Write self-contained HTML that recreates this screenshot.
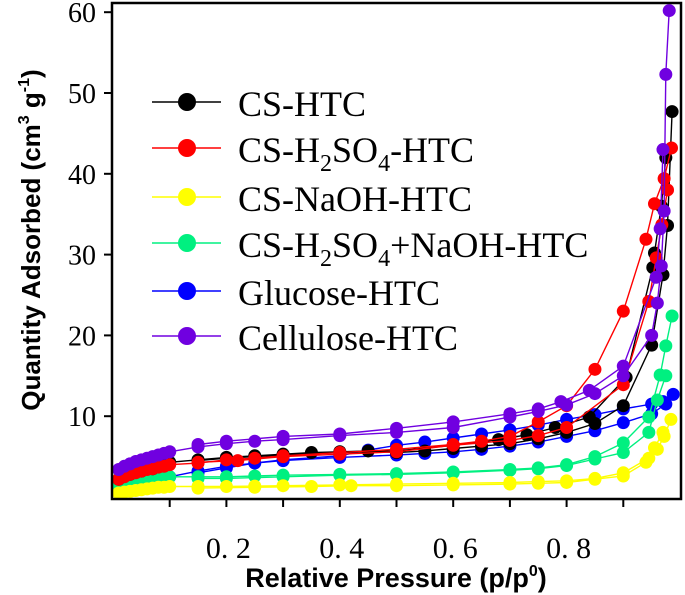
<!DOCTYPE html>
<html><head><meta charset="utf-8"><style>
html,body{margin:0;padding:0;background:#fff;}
svg{display:block;}
</style></head><body>
<svg id="chart" width="685" height="595" viewBox="0 0 685 595"></svg>
<script>
const seriesNames=["CS-HTC","CS-H2SO4-HTC","CS-NaOH-HTC","CS-H2SO4+NaOH-HTC","Glucose-HTC","Cellulose-HTC"];
const seriesColors=["#000000","#ff0000","#ffff00","#00f080","#0000ff","#7000e0"];
const xTicks=[0.2,0.4,0.6,0.8];
const yTicks=[10,20,30,40,50,60];
// adsorption branches [p, v]
const adsCS=[[0.01,2.2],[0.03,2.8],[0.05,3.2],[0.07,3.5],[0.09,3.9],[0.1,4.3],[0.15,4.6],[0.2,4.9],[0.25,5.1],[0.3,5.3],[0.35,5.5],[0.4,5.6],[0.45,5.7],[0.5,5.5],[0.55,5.7],[0.6,6.0],[0.65,6.3],[0.7,6.6],[0.75,7.2],[0.8,8.0],[0.85,9.1],[0.9,11.3],[0.95,18.8],[0.97,27.5],[0.978,33.6],[0.986,47.7]];
const desCS=[[0.975,42],[0.967,36],[0.955,30.2],[0.952,28.4],[0.905,14.8],[0.84,9.9],[0.78,8.6],[0.73,7.7],[0.68,7.1],[0.6,6.4],[0.5,5.7],[0.4,5.5],[0.3,5.2],[0.2,4.8],[0.15,4.5]];
const adsH2=[[0.01,2.2],[0.02,2.5],[0.03,2.8],[0.04,3.0],[0.05,3.2],[0.06,3.4],[0.07,3.5],[0.08,3.7],[0.09,3.8],[0.1,4.0],[0.15,4.2],[0.2,4.6],[0.25,4.8],[0.3,5.1],[0.4,5.5],[0.5,5.9],[0.6,6.5],[0.65,6.9],[0.7,7.5],[0.75,9.3],[0.8,11.3],[0.85,15.8],[0.9,23],[0.94,31.9],[0.955,36.3],[0.972,39.4],[0.985,43.2]];
const desH2=[[0.978,38],[0.968,33.7],[0.958,29.6],[0.945,24.2],[0.9,13.9],[0.8,8.6],[0.75,7.6],[0.7,7.0],[0.6,6.4],[0.5,5.6],[0.4,5.3],[0.3,5.0],[0.22,4.5],[0.15,4.3]];
const adsNa=[[0.01,0.5],[0.02,0.6],[0.03,0.7],[0.04,0.8],[0.05,0.9],[0.06,1.0],[0.07,1.1],[0.08,1.2],[0.09,1.2],[0.1,1.3],[0.15,1.3],[0.2,1.3],[0.25,1.35],[0.3,1.4],[0.4,1.5],[0.5,1.6],[0.6,1.7],[0.7,1.8],[0.75,1.9],[0.8,2.0],[0.85,2.3],[0.9,3.0],[0.945,4.8],[0.96,5.9],[0.972,7.5],[0.984,9.6]];
const desNa=[[0.97,8],[0.955,6.1],[0.94,4.3],[0.9,2.6],[0.85,2.2],[0.8,1.8],[0.75,1.7],[0.7,1.6],[0.6,1.5],[0.5,1.4],[0.42,1.4],[0.35,1.3],[0.25,1.2],[0.15,1.1]];
const adsGr=[[0.01,1.3],[0.02,1.5],[0.03,1.6],[0.04,1.7],[0.05,1.8],[0.06,2.0],[0.07,2.1],[0.08,2.2],[0.09,2.3],[0.1,2.5],[0.15,2.5],[0.2,2.5],[0.25,2.6],[0.3,2.7],[0.4,2.8],[0.5,2.9],[0.6,3.1],[0.7,3.4],[0.75,3.6],[0.8,4.0],[0.85,5.0],[0.9,6.7],[0.945,9.9],[0.965,15.1],[0.975,18.7],[0.986,22.4]];
const desGr=[[0.975,15],[0.96,12],[0.945,8.0],[0.9,5.5],[0.85,4.7],[0.8,3.9],[0.75,3.5],[0.7,3.3],[0.6,3.0],[0.5,2.8],[0.4,2.7],[0.3,2.5],[0.2,2.3],[0.15,2.3]];
const adsGl=[[0.01,0.8],[0.02,1.0],[0.03,1.2],[0.04,1.4],[0.05,1.5],[0.06,1.7],[0.07,1.8],[0.08,2.0],[0.09,2.2],[0.1,2.5],[0.15,3.2],[0.2,3.8],[0.3,4.6],[0.4,5.1],[0.45,5.8],[0.5,6.4],[0.55,6.8],[0.6,7.3],[0.65,7.8],[0.7,8.3],[0.75,8.9],[0.8,9.6],[0.85,10.2],[0.9,10.9],[0.95,11.5],[0.97,11.8],[0.988,12.7]];
const desGl=[[0.975,11.5],[0.95,10.3],[0.9,9.2],[0.85,8.2],[0.8,7.5],[0.75,6.8],[0.7,6.3],[0.65,5.9],[0.6,5.6],[0.55,5.4],[0.5,5.2],[0.4,4.9],[0.3,4.5],[0.25,4.2],[0.2,3.6],[0.15,3.0]];
const adsCe=[[0.01,3.4],[0.02,3.8],[0.03,4.1],[0.04,4.4],[0.05,4.6],[0.06,4.8],[0.07,5.0],[0.08,5.2],[0.09,5.4],[0.1,5.6],[0.15,6.2],[0.2,6.6],[0.25,6.9],[0.3,7.1],[0.4,7.6],[0.5,8.0],[0.6,8.6],[0.7,9.9],[0.75,10.6],[0.8,11.4],[0.85,12.8],[0.9,15],[0.95,20],[0.96,24],[0.967,28.6],[0.972,35.4],[0.975,52.3],[0.981,60.2]];
const desCe=[[0.97,43],[0.965,33.2],[0.958,27.2],[0.9,16.2],[0.84,13.2],[0.79,11.8],[0.75,10.9],[0.7,10.3],[0.6,9.3],[0.5,8.5],[0.4,7.8],[0.3,7.5],[0.2,6.9],[0.15,6.5]];
const ads=[adsCS,adsH2,adsNa,adsGr,adsGl,adsCe];
const des=[desCS,desH2,desNa,desGr,desGl,desCe];

const NS="http://www.w3.org/2000/svg";
const svg=document.getElementById('chart');
const L=112,R=681,T=3,B=499;
function xs(p){return 113+p*567;}
function ys(v){return 497-v*8.08;}
function mk(tag,attrs,parent){const e=document.createElementNS(NS,tag);for(const k in attrs)e.setAttribute(k,attrs[k]);(parent||svg).appendChild(e);return e;}

const order=[4,3,2,0,1,5];
order.forEach(i=>{
  const g=mk('g',{});
  
  
  [ads[i],des[i]].forEach((arr,bi)=>{
    const pts=arr.map(d=>xs(d[0]).toFixed(1)+','+ys(d[1]).toFixed(1)).join(' ');
    const pl=mk('polyline',{points:pts,fill:'none',stroke:seriesColors[i],'stroke-width':1.4},g);
    
    
    arr.forEach(d=>{
      const c=mk('circle',{cx:xs(d[0]),cy:ys(d[1]),r:6.5,fill:seriesColors[i]},g);
      
      
    });
  });
});

const fr=mk('rect',{x:L,y:T,width:R-L,height:B-T,fill:'none',stroke:'#000','stroke-width':2.5});


for(let k=1;k<=9;k++){
  const t=mk('line',{x1:xs(k/10),x2:xs(k/10),y1:B,y2:B+8,stroke:'#000','stroke-width':2});
  
  
}
xTicks.forEach(v=>{
  const t=mk('text',{x:xs(v)+2,y:558,'text-anchor':'middle','font-family':'Liberation Serif, serif','font-size':30,fill:'#000'});
  t.textContent=v.toFixed(1).replace('.','. ');
  
  
});
yTicks.forEach(v=>{
  const tk=mk('line',{x1:L-8,x2:L,y1:ys(v),y2:ys(v),stroke:'#000','stroke-width':2});
  
  
  const t=mk('text',{x:96,y:ys(v)+10,'text-anchor':'end','font-family':'Liberation Serif, serif','font-size':28,fill:'#000'});
  t.textContent=v;
  
  
});
const xt=mk('text',{x:396,y:587,'text-anchor':'middle','font-family':'Liberation Sans, sans-serif','font-weight':'bold','font-size':27,fill:'#000'});
xt.innerHTML='Relative Pressure (p/p<tspan dy="-11" font-size="16">0</tspan><tspan dy="11">)</tspan>';


const yt=mk('text',{transform:'translate(40,240) rotate(-90)','text-anchor':'middle','font-family':'Liberation Sans, sans-serif','font-weight':'bold','font-size':26,fill:'#000'});
yt.innerHTML='Quantity Adsorbed (cm<tspan dy="-11" font-size="16">3</tspan><tspan dy="11"> g</tspan><tspan dy="-11" font-size="16">-1</tspan><tspan dy="11">)</tspan>';



const legRows=[102,148,197,243,291,336];
const legLabels=['CS-HTC','CS-H<tspan dy="9" font-size="24">2</tspan><tspan dy="-9">SO</tspan><tspan dy="9" font-size="24">4</tspan><tspan dy="-9">-HTC</tspan>','CS-NaOH-HTC','CS-H<tspan dy="9" font-size="24">2</tspan><tspan dy="-9">SO</tspan><tspan dy="9" font-size="24">4</tspan><tspan dy="-9">+NaOH-HTC</tspan>','Glucose-HTC','Cellulose-HTC'];
const lg=mk('g',{});


legRows.forEach((y,i)=>{
  const e=mk('g',{},lg);
  
  
  mk('line',{x1:152,x2:221,y1:y,y2:y,stroke:seriesColors[i],'stroke-width':1.5},e);
  mk('circle',{cx:187,cy:y,r:9,fill:seriesColors[i]},e);
  const t=mk('text',{x:238,y:y+14,'font-family':'Liberation Serif, serif','font-size':36,fill:'#000'},e);
  t.innerHTML=legLabels[i];
});
</script>
</body></html>
